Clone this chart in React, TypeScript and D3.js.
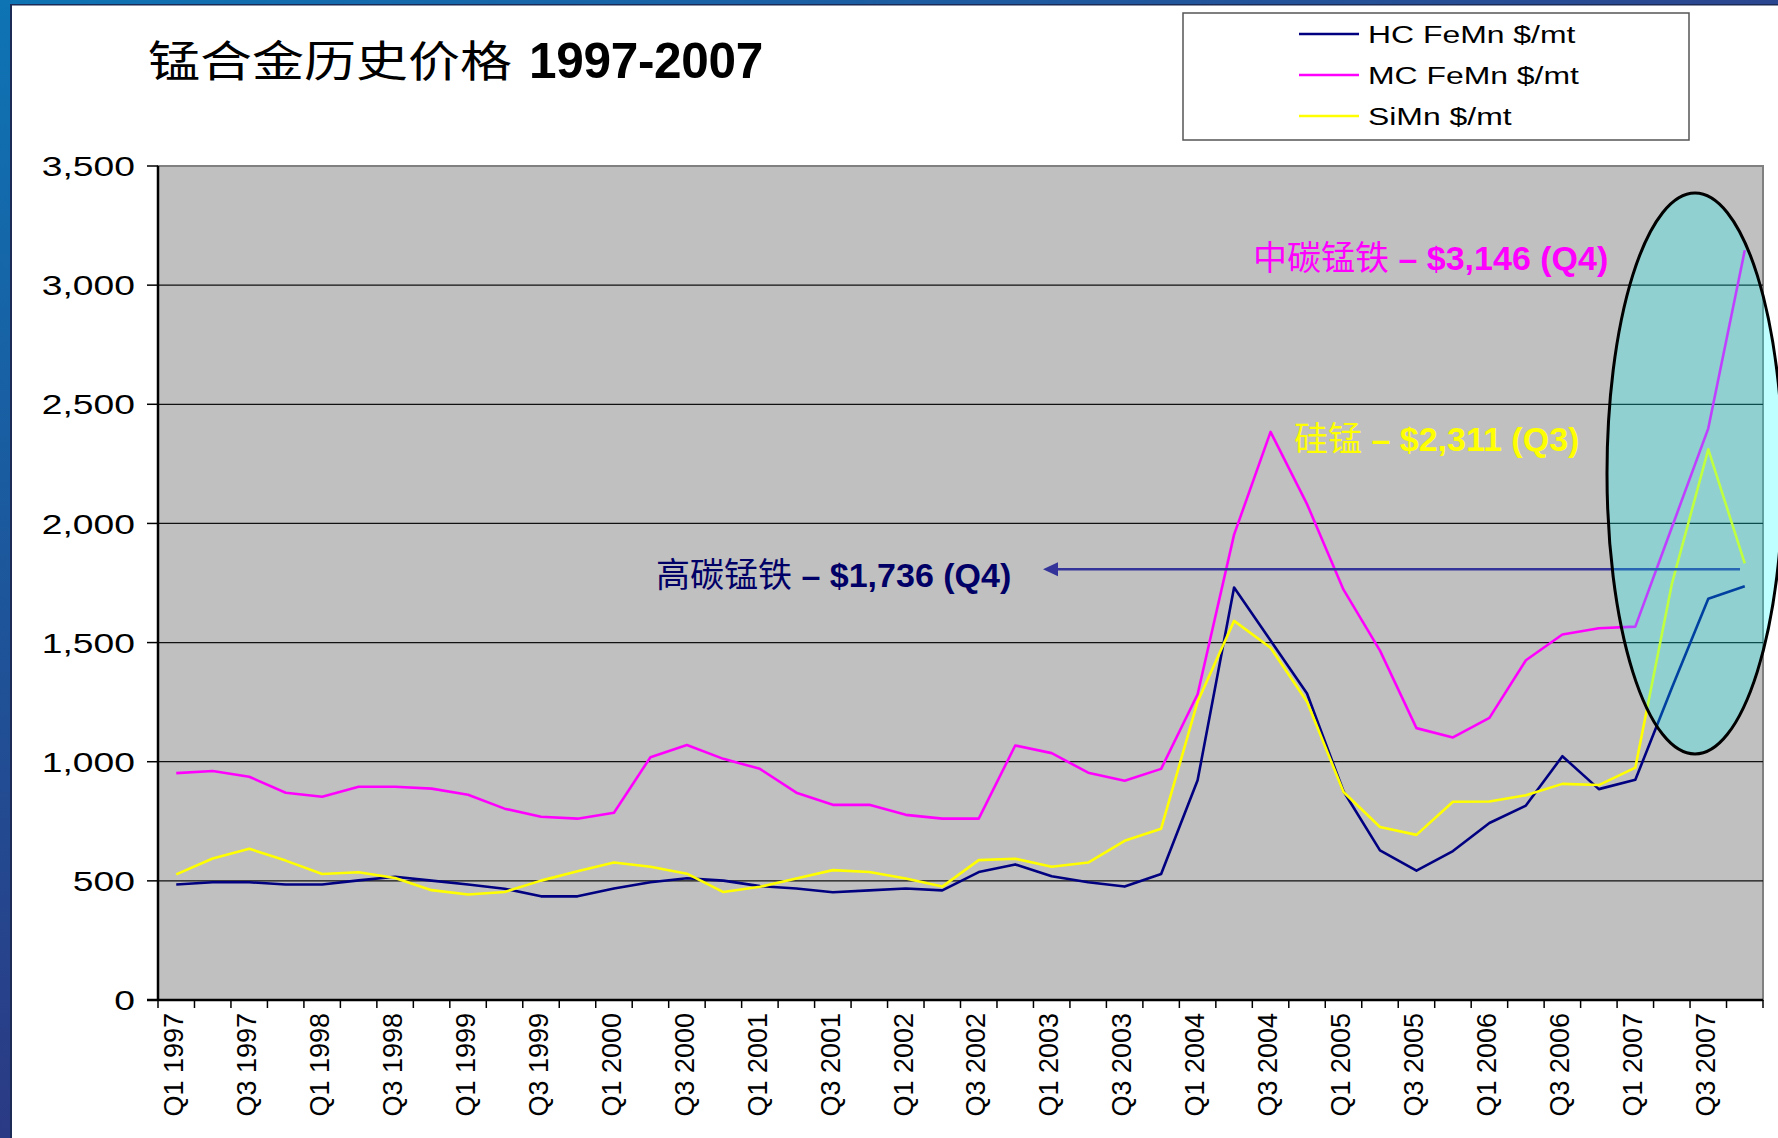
import React from 'react';
import * as d3 from 'd3';

// quarters Q1 1997 .. Q4 2007
const years = ['1997', '1998', '1999', '2000', '2001', '2002', '2003', '2004', '2005', '2006', '2007'];
const quarters = ['Q1', 'Q2', 'Q3', 'Q4'];
const categories = years.flatMap(y => quarters.map(q => `${q} ${y}`));

const hcFeMn = [
  485, 494, 494, 485, 485, 502, 517, 501, 485, 467,
  435, 435, 468, 494, 511, 501, 478, 468, 452, 460,
  468, 460, 537, 569, 519, 494, 476, 529, 922, 1731,
  1509, 1286, 876, 628, 543, 625, 743, 816, 1023, 885,
  924, 1309, 1684, 1736,
];
const mcFeMn = [
  952, 961, 937, 870, 853, 895, 895, 887, 861, 803,
  769, 761, 786, 1019, 1070, 1012, 970, 870, 819, 819,
  777, 761, 761, 1068, 1036, 954, 920, 970, 1283, 1953,
  2384, 2081, 1722, 1466, 1141, 1102, 1184, 1426, 1534, 1560,
  1567, 1983, 2399, 3146,
];
const siMn = [
  527, 594, 635, 585, 529, 536, 512, 461, 443, 453,
  501, 540, 577, 559, 530, 453, 475, 510, 545, 537,
  510, 476, 587, 593, 559, 577, 668, 719, 1252, 1591,
  1478, 1252, 873, 726, 693, 832, 833, 859, 907, 902,
  975, 1745, 2311, 1832,
];

const seriesNames = ['HC FeMn $/mt', 'MC FeMn $/mt', 'SiMn $/mt'];
const seriesColors = ['#000080', '#FF00FF', '#FFFF00'];
const yTicks = [0, 500, 1000, 1500, 2000, 2500, 3000, 3500];

const W = 1778;
const H = 1138;
const left = 158;
const right = 1763;
const top = 166;
const bottom = 1000;

const latin = '"Liberation Sans", Arial, sans-serif';
const cjk = '"Noto Sans CJK SC", sans-serif';

export default function App() {
  const x = d3.scaleBand().domain(categories).range([left, right]).padding(0);
  const y = d3.scaleLinear().domain([0, 3500]).range([bottom, top]);
  const bw = x.bandwidth();
  const cx = (c: string) => (x(c) as number) + bw / 2;

  const line = d3.line<number>()
    .x((d, i) => cx(categories[i]))
    .y(d => y(d));

  const series = [hcFeMn, mcFeMn, siMn];
  const fmt = d3.format(',');
  const boundaries = d3.range(categories.length + 1).map(i => left + i * bw);

  return (
    <svg width={W} height={H} style={{ position: 'absolute', left: 0, top: 0, display: 'block' }}>
      <defs>
        <linearGradient id="sideGrad" x1="0" y1="0" x2="0" y2="1">
          <stop offset="0" stopColor="#0E74B4" />
          <stop offset="1" stopColor="#2B3A84" />
        </linearGradient>
        <linearGradient id="topGrad" x1="0" y1="0" x2="1" y2="0">
          <stop offset="0" stopColor="#0E74B4" />
          <stop offset="1" stopColor="#2B4690" />
        </linearGradient>
      </defs>
      <rect x={0} y={0} width={W} height={H} fill="#ffffff" />

      {/* slide frame */}
      <rect x={0} y={0} width={W} height={4} fill="url(#topGrad)" />
      <rect x={0} y={4} width={W} height={1.5} fill="#1B2B55" />
      <rect x={0} y={0} width={10} height={H} fill="url(#sideGrad)" />
      <rect x={10} y={4} width={2} height={H} fill="#1B2B55" />

      {/* title */}
      <text x={148} y={77} fontFamily={cjk} fontSize={43} textLength={364}
        lengthAdjust="spacingAndGlyphs" fill="#000">锰合金历史价格</text>
      <text x={529} y={78} fontFamily={latin} fontSize={49.5} fontWeight="bold" fill="#000"
        letterSpacing={-0.3}>1997-2007</text>

      {/* legend */}
      <rect x={1183} y={13} width={506} height={127} fill="#fff" stroke="#555" strokeWidth={1.5} />
      {seriesNames.map((name, i) => {
        const ly = 34 + i * 41;
        return (
          <g key={name}>
            <line x1={1299} x2={1359} y1={ly} y2={ly} stroke={seriesColors[i]} strokeWidth={2.5} />
            <text transform={`translate(1368,${ly}) scale(1.33,1)`} dy="0.36em"
              fontFamily={latin} fontSize={24} fill="#000">{name}</text>
          </g>
        );
      })}

      {/* plot area */}
      <rect x={left} y={top} width={right - left} height={bottom - top} fill="#C0C0C0"
        stroke="#808080" strokeWidth={2} />
      {yTicks.filter(t => t > 0 && t < 3500).map(t => (
        <line key={t} x1={left} x2={right} y1={y(t)} y2={y(t)} stroke="#111" strokeWidth={1.3} />
      ))}
      <line x1={left} x2={left} y1={top} y2={bottom} stroke="#000" strokeWidth={2.5} />
      <line x1={147} x2={right} y1={bottom} y2={bottom} stroke="#000" strokeWidth={2.5} />

      {/* y axis */}
      {yTicks.map(t => (
        <g key={t}>
          <line x1={147} x2={left} y1={y(t)} y2={y(t)} stroke="#000" strokeWidth={1.5} />
          <text transform={`translate(135,${y(t)}) scale(1.33,1)`} dy="0.36em" textAnchor="end"
            fontFamily={latin} fontSize={28} fill="#000">{fmt(t)}</text>
        </g>
      ))}

      {/* x axis */}
      {boundaries.map((bx, i) => (
        <line key={i} x1={bx} x2={bx} y1={bottom} y2={bottom + 8} stroke="#000" strokeWidth={1.5} />
      ))}
      {categories.map((c, i) => (i % 2 === 0 ? (
        <text key={c} transform={`translate(${cx(c) - 3},1013) rotate(-90)`} dy="0.36em"
          textAnchor="end" fontFamily={latin} fontSize={27} fill="#000">{c}</text>
      ) : null))}

      {/* series */}
      {series.map((s, i) => (
        <path key={seriesNames[i]} d={line(s) || ''} fill="none" stroke={seriesColors[i]}
          strokeWidth={2.6} strokeLinejoin="round" />
      ))}

      {/* annotations */}
      <text x={1253} y={270} fontFamily={latin} fontSize={34} fontWeight="bold" fill="#FF00FF">
        <tspan fontFamily={cjk} fontWeight="normal">中碳锰铁</tspan> – $3,146 (Q4)
      </text>
      <text x={1294} y={451} fontFamily={latin} fontSize={34} fontWeight="bold" fill="#FFFF00">
        <tspan fontFamily={cjk} fontWeight="normal">硅锰</tspan> – $2,311 (Q3)
      </text>
      <text x={656} y={587} fontFamily={latin} fontSize={34} fontWeight="bold" fill="#000066">
        <tspan fontFamily={cjk} fontWeight="normal">高碳锰铁</tspan> – $1,736 (Q4)
      </text>
      <line x1={1740} x2={1056} y1={y(1808)} y2={y(1808)} stroke="#333399" strokeWidth={2.5} />
      <polygon points={`1043,${y(1808)} 1058,${y(1808) - 7} 1058,${y(1808) + 7}`} fill="#333399" />

      {/* highlight ellipse */}
      <ellipse cx={1695} cy={473.5} rx={88} ry={280.5} fill="rgba(0,255,255,0.25)"
        stroke="#000" strokeWidth={3} />
    </svg>
  );
}
